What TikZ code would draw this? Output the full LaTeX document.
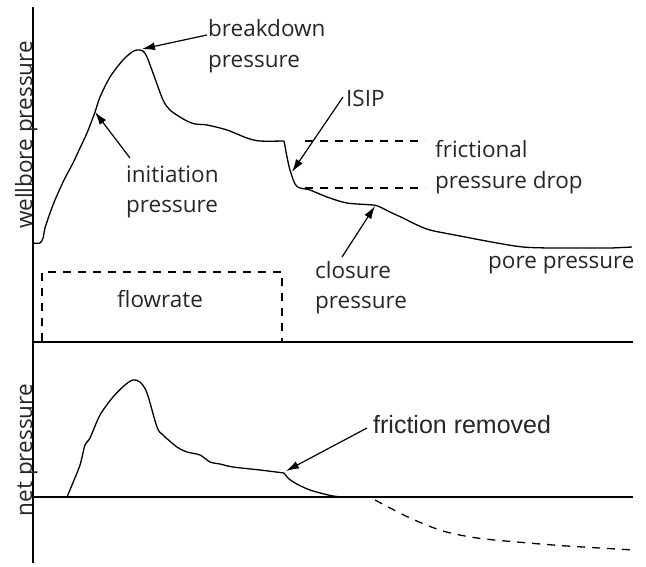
\documentclass[tikz,border=0pt]{standalone}
\usepackage{fontspec}
\setmainfont{Open Sans}
\newfontfamily\arialf{Liberation Sans}
\usetikzlibrary{arrows.meta}
\begin{document}
\begin{tikzpicture}[x=1pt,y=-1pt,
  axisline/.style={line width=1.4pt},
  curve/.style={line width=1.3pt, line join=round},
  dashline/.style={line width=1.3pt, dash pattern=on 8pt off 7pt},
  pointer/.style={line width=1.2pt, -{Latex[length=13pt,width=8pt]}},
  lbl/.style={anchor=base west, inner sep=0pt, font=\fontsize{22.5}{27}\selectfont, text=black!85},
  ylbl/.style={anchor=base, inner sep=0pt, rotate=90, font=\fontsize{22.5}{27}\selectfont, text=black!85}]
\useasboundingbox (0,0) rectangle (646,566);
% axes
\coordinate (axtop) at (33,7);
\coordinate (axbot) at (33,563);
\coordinate (sepL) at (33,342);
\coordinate (sepR) at (633,342);
\coordinate (zeroL) at (33,497);
\coordinate (zeroR) at (633,497);
\draw[axisline] (axtop) -- (axbot);
\draw[axisline] (sepL) -- (sepR);
\draw[axisline] (zeroL) -- (zeroR);
% upper curve
\draw[curve] plot[smooth, tension=0.5] coordinates {(33,243) (40,243) (43,238) (45,228) (50,213) (55,200) (64,180) (73,163) (80,148) (87,133) (95,112) (100,97) (110,77) (123,60) (132,52) (137,50) (143,51) (147,57) (153,73) (163,100) (170,110) (180,117) (187,121) (195,124) (207,125) (227,130) (247,138) (260,141) (284,141)}
  plot[smooth, tension=0.5] coordinates {(284,141) (285,146) (287,157) (290,170) (295,184) (300,188) (310,190) (327,197) (347,203) (373,205) (380,207) (390,212) (403,218) (415,224) (430,230) (460,236) (497,243) (523,247) (550,248) (583,248) (610,248) (632,247)};
% flowrate box
\draw[dashline] (42,341) -- (42,272) -- (282,272) -- (282,341);
% frictional pressure drop lines
\draw[dashline] (305,141) -- (425,141);
\draw[dashline] (305,188) -- (425,188);
% lower curve
\draw[curve] plot[smooth, tension=0.5] coordinates {(67,497) (72,485) (80,465) (85,445) (90,438) (100,415) (113,397) (125,385) (133,380) (140,382) (147,393) (157,427) (163,435) (177,447) (187,452) (200,455) (210,462) (220,464) (233,467) (260,470) (284,473)}
  plot[smooth, tension=0.5] coordinates {(284,473) (288,478) (295,483) (310,490) (333,496) (350,497) (368,497)};
\draw[dashline] plot[smooth, tension=0.5] coordinates {(375,500) (410,518) (443,531) (477,538) (517,542) (567,546) (634,550)};
% labels
\node[ylbl] (wp) at (32,135) {wellbore pressure};
\node[ylbl] (np) at (32,450) {net pressure};
\node[lbl] (bd1) at (208,36) {breakdown};
\node[lbl] (bd2) at (208,67) {pressure};
\node[lbl] (isip) at (346,106) {ISIP};
\node[lbl] (fr1) at (435,157) {frictional};
\node[lbl] (fr2) at (435,188) {pressure drop};
\node[lbl] (in1) at (126,182) {initiation};
\node[lbl] (in2) at (126,212) {pressure};
\node[lbl] (cl1) at (315,278) {closure};
\node[lbl] (cl2) at (315,308) {pressure};
\node[lbl] (pp) at (488,268) {pore pressure};
\node[lbl] (fl) at (117,307) {flowrate};
\node[lbl, font=\arialf\fontsize{25}{30}\selectfont] (frm) at (373,433) {friction removed};
% arrows
\coordinate (bdT) at (207,35);
\coordinate (bdH) at (142,49);
\coordinate (inT) at (130,158);
\coordinate (inH) at (95,112);
\coordinate (isT) at (343,97);
\coordinate (isH) at (292,172);
\coordinate (clT) at (342,257);
\coordinate (clH) at (375,206);
\coordinate (frT) at (367,428);
\coordinate (frH) at (286,471);
\draw[pointer] (bdT) -- (bdH);
\draw[pointer] (inT) -- (inH);
\draw[pointer] (isT) -- (isH);
\draw[pointer] (clT) -- (clH);
\draw[pointer] (frT) -- (frH);
\end{tikzpicture}
\end{document}
